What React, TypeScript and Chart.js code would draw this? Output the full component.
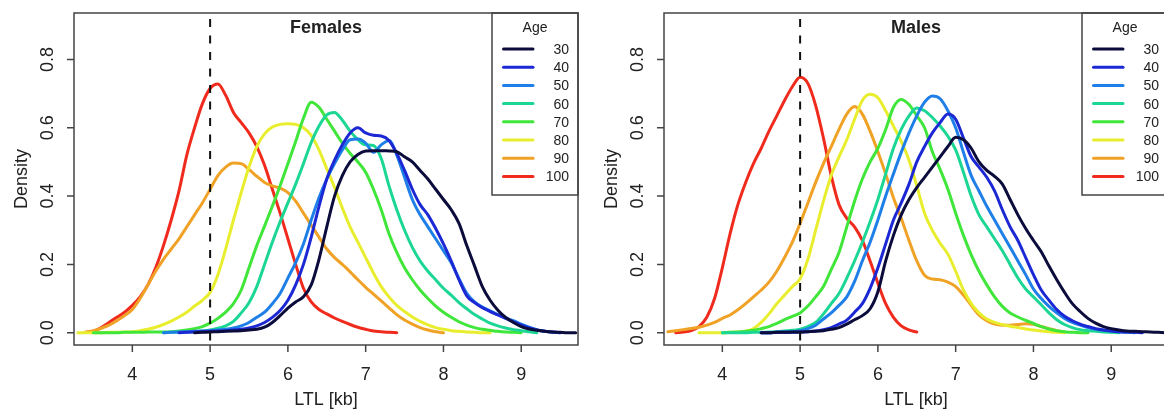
import React, { useEffect, useRef } from 'react';
import { Chart, registerables } from 'chart.js';

Chart.register(...registerables);

const N = null;

// Shared LTL grid (kb) on which the density curves were read
const LTL_GRID = [
  3.3, 3.4, 3.5, 3.6, 3.7, 3.8, 3.9, 4.0, 4.1, 4.2,
  4.3, 4.4, 4.5, 4.6, 4.7, 4.8, 4.9, 5.0, 5.1, 5.2,
  5.3, 5.4, 5.5, 5.6, 5.7, 5.8, 5.9, 6.0, 6.1, 6.2,
  6.3, 6.4, 6.5, 6.6, 6.7, 6.8, 6.9, 7.0, 7.1, 7.2,
  7.3, 7.4, 7.5, 7.6, 7.7, 7.8, 7.9, 8.0, 8.1, 8.2,
  8.3, 8.4, 8.5, 8.6, 8.7, 8.8, 8.9, 9.0, 9.1, 9.2,
  9.3, 9.4, 9.5, 9.6, 9.7,
];

const AGE_GROUPS = ['30', '40', '50', '60', '70', '80', '90', '100'];
const AGE_COLORS = ['#0c0c3c', '#1c28d4', '#1f7fe8', '#1cd694', '#40e63a', '#e8ee2e', '#f0a226', '#f02a1c'];

const X_TICKS = [4, 5, 6, 7, 8, 9];
const Y_TICKS = [0, 0.2, 0.4, 0.6, 0.8];
const Y_TICK_LABELS = ['0.0', '0.2', '0.4', '0.6', '0.8'];
const X_TITLE = 'LTL [kb]';
const Y_TITLE = 'Density';
const LEGEND_TITLE = 'Age';
const CUTOFF_KB = 5;

// ---------- Females ----------
const F_30 = [
  N, N, N, N, N, N, N, N, N, N,
  N, N, N, N, N, 0, 0.001, 0.002, 0.003, 0.004,
  0.005, 0.006, 0.008, 0.01, 0.016, 0.03, 0.05, 0.072, 0.09, 0.105,
  0.14, 0.215, 0.31, 0.4, 0.46, 0.5, 0.522, 0.532, 0.533, 0.533,
  0.532, 0.53, 0.515, 0.5, 0.475, 0.45, 0.42, 0.39, 0.36, 0.32,
  0.255, 0.195, 0.135, 0.095, 0.066, 0.045, 0.03, 0.018, 0.011, 0.007,
  0.004, 0.002, 0.001, 0, 0,
];
const F_40 = [
  N, N, N, N, N, N, N, N, N, N,
  N, N, N, 0, 0.001, 0.002, 0.003, 0.004, 0.005, 0.006,
  0.008, 0.01, 0.014, 0.02, 0.03, 0.045, 0.065, 0.095, 0.14, 0.2,
  0.28, 0.37, 0.45, 0.505, 0.55, 0.585, 0.6, 0.585, 0.578, 0.576,
  0.563, 0.525, 0.475, 0.42, 0.375, 0.345, 0.305, 0.26, 0.21, 0.155,
  0.108, 0.088, 0.073, 0.062, 0.052, 0.042, 0.032, 0.022, 0.014, 0.008,
  0.004, 0.002, 0, N, N,
];
const F_50 = [
  N, N, N, N, N, N, N, N, N, N,
  N, 0, 0.001, 0.002, 0.003, 0.004, 0.005, 0.006, 0.008, 0.01,
  0.014, 0.02, 0.03, 0.045, 0.06, 0.085, 0.115, 0.16, 0.205, 0.26,
  0.33, 0.395, 0.45, 0.495, 0.535, 0.565, 0.567, 0.555, 0.528, 0.55,
  0.563, 0.52, 0.455, 0.39, 0.345, 0.31, 0.275, 0.24, 0.205, 0.158,
  0.115, 0.09, 0.075, 0.064, 0.053, 0.043, 0.035, 0.025, 0.016, 0.009,
  0.004, 0.001, 0, N, N,
];
const F_60 = [
  N, N, N, N, N, N, N, N, N, N,
  N, 0, 0.001, 0.002, 0.002, 0.003, 0.005, 0.008, 0.013, 0.02,
  0.033, 0.058, 0.088, 0.135, 0.2, 0.265, 0.325, 0.38, 0.435, 0.495,
  0.557, 0.605, 0.638, 0.645, 0.622, 0.59, 0.565, 0.55, 0.548, 0.51,
  0.43, 0.36, 0.3, 0.25, 0.21, 0.18, 0.155, 0.13, 0.11, 0.088,
  0.07, 0.053, 0.04, 0.028, 0.02, 0.014, 0.009, 0.006, 0.003, 0,
  N, N, N, N, N,
];
const F_70 = [
  N, N, 0, 0, 0, 0, 0.001, 0.001, 0.001, 0.002,
  0.002, 0.002, 0.003, 0.005, 0.008, 0.012, 0.018, 0.028, 0.042, 0.06,
  0.085, 0.125, 0.19, 0.255, 0.312, 0.37, 0.43, 0.495, 0.56, 0.628,
  0.675, 0.66, 0.625, 0.59, 0.555, 0.525, 0.5, 0.47, 0.42, 0.36,
  0.29, 0.235, 0.19, 0.155, 0.125, 0.1, 0.078, 0.06, 0.045, 0.032,
  0.022, 0.015, 0.01, 0.007, 0.004, 0.002, 0.001, 0, N, N,
  N, N, N, N, N,
];
const F_80 = [
  0, 0, 0, 0, 0.001, 0.001, 0.002, 0.003, 0.006, 0.01,
  0.016, 0.024, 0.034, 0.046, 0.06, 0.078, 0.095, 0.118, 0.17, 0.245,
  0.33, 0.41, 0.485, 0.545, 0.582, 0.602, 0.61, 0.612, 0.61, 0.6,
  0.578, 0.535, 0.48, 0.425, 0.365, 0.31, 0.265, 0.22, 0.175, 0.135,
  0.105, 0.08, 0.062, 0.046, 0.033, 0.023, 0.015, 0.01, 0.006, 0.004,
  0.002, 0.001, 0, 0, N, N, N, N, N, N,
  N, N, N, N, N,
];
const F_90 = [
  N, 0.002, 0.006, 0.013, 0.022, 0.035, 0.05, 0.068, 0.1, 0.14,
  0.18, 0.215, 0.245, 0.275, 0.31, 0.345, 0.38, 0.42, 0.46, 0.485,
  0.497, 0.495, 0.478, 0.458, 0.44, 0.43, 0.423, 0.41, 0.385, 0.35,
  0.315, 0.28, 0.245, 0.22, 0.2, 0.178, 0.155, 0.133, 0.113, 0.093,
  0.073, 0.053, 0.037, 0.025, 0.015, 0.008, 0.003, 0, N, N,
  N, N, N, N, N, N, N, N, N, N,
  N, N, N, N, N,
];
const F_100 = [
  N, N, 0.003, 0.015, 0.03, 0.045, 0.06, 0.08, 0.105, 0.14,
  0.19, 0.255, 0.33, 0.415, 0.52, 0.6, 0.67, 0.715, 0.728, 0.695,
  0.645, 0.615, 0.585, 0.545, 0.49, 0.42, 0.35, 0.275, 0.2, 0.13,
  0.09, 0.068, 0.055, 0.043, 0.033, 0.024, 0.016, 0.01, 0.005, 0.003,
  0.001, 0, N, N, N, N, N, N, N, N,
  N, N, N, N, N, N, N, N, N, N,
  N, N, N, N, N,
];

// ---------- Males ----------
const M_30 = [
  N, N, N, N, N, N, N, N, N, N,
  N, N, 0, 0, 0.001, 0.001, 0.002, 0.002, 0.003, 0.004,
  0.006, 0.01, 0.015, 0.025, 0.038, 0.05, 0.07, 0.12, 0.21, 0.285,
  0.345, 0.39, 0.425, 0.455, 0.485, 0.515, 0.545, 0.572, 0.565, 0.54,
  0.5, 0.475, 0.458, 0.435, 0.39, 0.345, 0.305, 0.27, 0.237, 0.195,
  0.155, 0.118, 0.085, 0.062, 0.042, 0.028, 0.018, 0.012, 0.008, 0.005,
  0.004, 0.003, 0.002, 0.001, 0,
];
const M_40 = [
  N, N, N, N, N, N, N, N, N, N,
  N, N, 0, 0, 0.001, 0.001, 0.001, 0.002, 0.003, 0.005,
  0.009, 0.015, 0.025, 0.037, 0.06, 0.085, 0.13, 0.19, 0.26, 0.33,
  0.38, 0.435, 0.5, 0.545, 0.585, 0.615, 0.64, 0.625, 0.57, 0.515,
  0.485, 0.455, 0.415, 0.36, 0.31, 0.27, 0.22, 0.17, 0.125, 0.095,
  0.068, 0.048, 0.035, 0.025, 0.018, 0.012, 0.008, 0.005, 0.003, 0.002,
  0.001, 0, N, N, N,
];
const M_50 = [
  N, N, N, N, N, N, N, N, N, N,
  N, N, 0, 0, 0.001, 0.002, 0.003, 0.006, 0.012, 0.022,
  0.04, 0.058, 0.08, 0.105, 0.15, 0.21, 0.265, 0.33, 0.4, 0.465,
  0.528, 0.585, 0.635, 0.675, 0.693, 0.685, 0.65, 0.6, 0.528, 0.46,
  0.415, 0.37, 0.33, 0.29, 0.25, 0.21, 0.17, 0.128, 0.1, 0.077,
  0.058, 0.042, 0.03, 0.022, 0.015, 0.01, 0.007, 0.005, 0.003, 0.001,
  0, N, N, N, N,
];
const M_60 = [
  N, N, N, N, N, N, N, 0, 0, 0,
  0, 0.001, 0.001, 0.002, 0.003, 0.005, 0.007, 0.01, 0.018, 0.03,
  0.055, 0.085, 0.115, 0.16, 0.21, 0.265, 0.325, 0.39, 0.465, 0.54,
  0.595, 0.635, 0.658, 0.65, 0.63, 0.605, 0.575, 0.535, 0.47, 0.4,
  0.345, 0.31, 0.275, 0.24, 0.2, 0.16, 0.128, 0.105, 0.082, 0.058,
  0.038, 0.024, 0.015, 0.009, 0.006, 0.004, 0.002, 0.001, 0, N,
  N, N, N, N, N,
];
const M_70 = [
  N, N, N, N, N, N, N, 0, 0.001, 0.002,
  0.004, 0.007, 0.012, 0.018, 0.027, 0.038, 0.048, 0.058, 0.078, 0.105,
  0.135, 0.185, 0.235, 0.31, 0.385, 0.45, 0.5, 0.54, 0.595, 0.66,
  0.683, 0.668, 0.635, 0.6, 0.53, 0.478, 0.42, 0.35, 0.285, 0.228,
  0.18, 0.14, 0.105, 0.077, 0.058, 0.046, 0.036, 0.027, 0.018, 0.011,
  0.006, 0.003, 0.001, 0, 0, N, N, N, N, N,
  N, N, N, N, N,
];
const M_80 = [
  N, N, N, N, 0, 0, 0, 0, 0.001, 0.002,
  0.004, 0.012, 0.03, 0.055, 0.085, 0.11, 0.135, 0.158, 0.215, 0.3,
  0.385, 0.46, 0.515, 0.565, 0.625, 0.68, 0.698, 0.688, 0.65, 0.605,
  0.56, 0.505, 0.43, 0.35, 0.3, 0.262, 0.23, 0.18, 0.125, 0.085,
  0.058, 0.04, 0.03, 0.024, 0.019, 0.015, 0.011, 0.008, 0.005, 0.003,
  0.001, 0, N, N, N, N, N, N, N, N,
  N, N, N, N, N,
];
const M_90 = [
  0.003, 0.006, 0.009, 0.012, 0.016, 0.022, 0.03, 0.042, 0.052, 0.067,
  0.085, 0.105, 0.125, 0.148, 0.18, 0.22, 0.265, 0.32, 0.38, 0.44,
  0.495, 0.545, 0.595, 0.64, 0.662, 0.64, 0.59, 0.53, 0.465, 0.395,
  0.335, 0.27, 0.21, 0.168, 0.157, 0.155, 0.148, 0.135, 0.11, 0.08,
  0.052, 0.035, 0.025, 0.022, 0.022, 0.024, 0.026, 0.025, 0.018, 0.012,
  0.006, 0.002, N, N, N, N, N, N, N, N,
  N, N, N, N, N,
];
const M_100 = [
  N, 0, 0.002, 0.006, 0.018, 0.045, 0.1, 0.19, 0.29, 0.375,
  0.44, 0.495, 0.54, 0.59, 0.635, 0.68, 0.72, 0.748, 0.73, 0.665,
  0.57, 0.46, 0.375, 0.335, 0.31, 0.27, 0.21, 0.145, 0.085, 0.045,
  0.02, 0.008, 0.002, N, N, N, N, N, N, N,
  N, N, N, N, N, N, N, N, N, N,
  N, N, N, N, N, N, N, N, N, N,
  N, N, N, N, N,
];

const FEMALE_SERIES = [F_30, F_40, F_50, F_60, F_70, F_80, F_90, F_100];
const MALE_SERIES = [M_30, M_40, M_50, M_60, M_70, M_80, M_90, M_100];

const FONT = '"Liberation Sans", Arial, Helvetica, sans-serif';
const TEXT = '#222';
const FRAME = '#444';

function makeDatasets(series: (number | null)[][]) {
  return series.map((vals, i) => ({
    label: AGE_GROUPS[i],
    data: LTL_GRID.map((x, j) => ({ x, y: vals[j] })).filter((p) => p.y !== null && p.y !== undefined),
    borderColor: AGE_COLORS[i],
    backgroundColor: AGE_COLORS[i],
    borderWidth: 3,
    pointRadius: 0,
    pointHoverRadius: 0,
    fill: false,
    cubicInterpolationMode: 'monotone' as const,
    borderCapStyle: 'round' as const,
    borderJoinStyle: 'round' as const,
  }));
}

function decorPlugin(title: string) {
  return {
    id: 'rPanelDecor',
    afterDatasetsDraw(chart: any) {
      const { ctx, chartArea: a, scales } = chart;
      const xs = scales.x;
      const ys = scales.y;
      ctx.save();

      // vertical reference line
      const xc = xs.getPixelForValue(CUTOFF_KB);
      ctx.strokeStyle = '#111';
      ctx.lineWidth = 2;
      ctx.setLineDash([8, 8.5]);
      ctx.lineDashOffset = 10.5;
      ctx.beginPath();
      ctx.moveTo(xc, a.top);
      ctx.lineTo(xc, a.bottom);
      ctx.stroke();
      ctx.setLineDash([]);

      // frame
      ctx.strokeStyle = FRAME;
      ctx.lineWidth = 1.5;
      ctx.strokeRect(a.left, a.top, a.right - a.left, a.bottom - a.top);

      // tick marks
      ctx.beginPath();
      X_TICKS.forEach((v) => {
        const px = xs.getPixelForValue(v);
        ctx.moveTo(px, a.bottom);
        ctx.lineTo(px, a.bottom + 7);
      });
      Y_TICKS.forEach((v) => {
        const py = ys.getPixelForValue(v);
        ctx.moveTo(a.left, py);
        ctx.lineTo(a.left - 7, py);
      });
      ctx.stroke();

      // tick labels and axis titles
      ctx.fillStyle = TEXT;
      ctx.font = `18px ${FONT}`;
      ctx.textAlign = 'center';
      ctx.textBaseline = 'alphabetic';
      X_TICKS.forEach((v) => ctx.fillText(String(v), xs.getPixelForValue(v), a.bottom + 35));
      ctx.fillText(X_TITLE, (a.left + a.right) / 2, a.bottom + 60);
      Y_TICKS.forEach((v, i) => {
        ctx.save();
        ctx.translate(a.left - 21.5, ys.getPixelForValue(v));
        ctx.rotate(-Math.PI / 2);
        ctx.fillText(Y_TICK_LABELS[i], 0, 0);
        ctx.restore();
      });
      ctx.save();
      ctx.translate(a.left - 47.5, (a.top + a.bottom) / 2);
      ctx.rotate(-Math.PI / 2);
      ctx.fillText(Y_TITLE, 0, 0);
      ctx.restore();

      // panel title
      ctx.font = `bold 18px ${FONT}`;
      ctx.fillText(title, (a.left + a.right) / 2, a.top + 20);

      // legend
      const lx = a.right - 86;
      const ly = a.top;
      ctx.strokeStyle = FRAME;
      ctx.lineWidth = 1.5;
      ctx.strokeRect(lx, ly, 86, 182);
      ctx.font = `14px ${FONT}`;
      ctx.textAlign = 'center';
      ctx.fillText(LEGEND_TITLE, lx + 43, ly + 18.5);
      chart.data.datasets.forEach((ds: any, i: number) => {
        const yy = ly + 36 + i * 18.2;
        ctx.strokeStyle = ds.borderColor;
        ctx.lineWidth = 3;
        ctx.lineCap = 'round';
        ctx.beginPath();
        ctx.moveTo(lx + 11.5, yy);
        ctx.lineTo(lx + 41, yy);
        ctx.stroke();
        ctx.textAlign = 'right';
        ctx.fillStyle = TEXT;
        ctx.fillText(ds.label, lx + 77, yy + 5);
      });

      ctx.restore();
    },
  };
}

function Panel({ title, series, left }: { title: string; series: (number | null)[][]; left: number }) {
  const ref = useRef<HTMLCanvasElement>(null);
  useEffect(() => {
    if (!ref.current) return;
    const chart = new Chart(ref.current, {
      type: 'line',
      data: { datasets: makeDatasets(series) as any },
      options: {
        responsive: false,
        animation: false,
        devicePixelRatio: 1,
        events: [],
        layout: { padding: { left: 74, right: 4, top: 13, bottom: 64 } },
        scales: {
          x: { type: 'linear', display: false, min: 3.25, max: 9.73 },
          y: { type: 'linear', display: false, min: -0.036, max: 0.936 },
        },
        plugins: {
          legend: { display: false },
          tooltip: { enabled: false },
          title: { display: false },
        },
      } as any,
      plugins: [decorPlugin(title)],
    });
    return () => chart.destroy();
  }, [title, series]);
  return (
    <canvas
      ref={ref}
      width={582}
      height={409}
      style={{ position: 'absolute', left, top: 0, width: 582, height: 409 }}
    />
  );
}

export default function App() {
  return (
    <div
      style={{
        position: 'absolute',
        left: 0,
        top: 0,
        width: 1164,
        height: 409,
        overflow: 'hidden',
        background: '#ffffff',
      }}
    >
      <Panel title="Females" series={FEMALE_SERIES} left={0} />
      <Panel title="Males" series={MALE_SERIES} left={590} />
    </div>
  );
}
